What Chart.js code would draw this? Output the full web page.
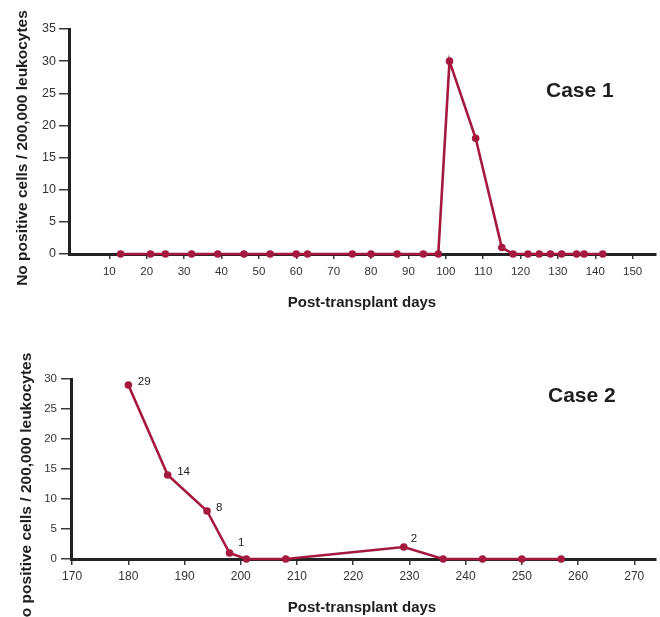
<!DOCTYPE html>
<html><head><meta charset="utf-8">
<script src="https://cdn.jsdelivr.net/npm/chart.js@4.4.1/dist/chart.umd.min.js"></script>
<style>
html,body{margin:0;padding:0;background:#fff;width:660px;height:617px;overflow:hidden;position:relative;}
#c1{position:absolute;left:0;top:0;}
#c2{position:absolute;left:0;top:310px;}
</style></head><body>
<canvas id="c1" width="660" height="330"></canvas>
<canvas id="c2" width="660" height="307"></canvas>
<script>
// ---- data ----
const case1Days   = [13,21,25,32,39,46,53,60,63,75,80,87,94,98,101,108,115,118,122,125,128,131,135,137,142];
const case1Values = [0,0,0,0,0,0,0,0,0,0,0,0,0,0,30,18,1,0,0,0,0,0,0,0,0];
const case1XTicks = [10,20,30,40,50,60,70,80,90,100,110,120,130,140,150];
const case1YTicks = [0,5,10,15,20,25,30,35];

const case2Days   = [180,187,194,198,201,208,229,236,243,250,257];
const case2Values = [29,14,8,1,0,0,2,0,0,0,0];
const case2Labels = ['29','14','8','1','','','2','','','',''];
const case2XTicks = [170,180,190,200,210,220,230,240,250,260,270];
const case2YTicks = [0,5,10,15,20,25,30];

const xTitle = 'Post-transplant days';
const yTitle = 'No positive cells / 200,000 leukocytes';

// ---- styling ----
const RED = '#a5193f';
const FONT = '"Liberation Sans", Arial, Helvetica, sans-serif';

const annotPlugin = {
  id: 'annot',
  afterDatasetsDraw(chart, args, o) {
    const ctx = chart.ctx;
    ctx.save();
    ctx.fillStyle = '#1e1e1e';
    // x title
    ctx.font = 'bold 15px ' + FONT;
    ctx.textAlign = 'center';
    ctx.textBaseline = 'alphabetic';
    ctx.fillText(o.xTitle, o.xTitleX, o.xTitleY);
    // case label
    ctx.font = 'bold 21px ' + FONT;
    ctx.textAlign = 'left';
    ctx.fillText(o.caseText, o.caseX, o.caseY);
    // y title (rotated)
    ctx.save();
    ctx.translate(o.yTitleX, o.yTitleY);
    ctx.rotate(-Math.PI / 2);
    ctx.font = 'bold 15.5px ' + FONT;
    ctx.textAlign = 'center';
    ctx.textBaseline = 'alphabetic';
    ctx.fillText(o.yTitle, 0, 0);
    ctx.restore();
    // point labels
    if (o.pointLabels) {
      const meta = chart.getDatasetMeta(0);
      ctx.font = '11.5px ' + FONT;
      ctx.fillStyle = '#222';
      ctx.textAlign = 'left';
      ctx.textBaseline = 'middle';
      o.pointLabels.forEach((t, i) => {
        if (!t) return;
        const el = meta.data[i];
        const off = o.labelOffsets[i] || [9, -3];
        ctx.fillText(t, el.x + off[0], el.y + off[1]);
      });
    }
    ctx.restore();
  }
};

function makeChart(canvas, cfg) {
  return new Chart(canvas, {
    type: 'line',
    data: {
      datasets: [{
        data: cfg.days.map((d, i) => ({x: d, y: cfg.values[i]})),
        borderColor: RED,
        backgroundColor: RED,
        borderWidth: 2.6,
        pointRadius: 3.8,
        pointHoverRadius: 3.8,
        pointBackgroundColor: RED,
        pointBorderWidth: 0,
        tension: 0,
        clip: false
      }]
    },
    options: {
      responsive: false,
      devicePixelRatio: 1,
      animation: false,
      events: [],
      layout: {padding: {top: cfg.top, left: 0, right: 0, bottom: 0}},
      plugins: {
        legend: {display: false},
        tooltip: {enabled: false},
        annot: cfg.annot
      },
      scales: {
        x: {
          type: 'linear',
          min: cfg.xMin, max: cfg.xMax,
          afterBuildTicks: s => { s.ticks = cfg.xTicks.map(v => ({value: v})); },
          afterFit: s => { s.height = cfg.xHeight; },
          grid: {display: true, drawOnChartArea: false, drawTicks: true, tickLength: cfg.xTickLen, color: '#3a3a3a', lineWidth: 1.5},
          border: {display: true, color: '#222', width: 3},
          ticks: {font: {family: FONT, size: cfg.xFont}, color: '#333', padding: cfg.xPad, maxRotation: 0, autoSkip: false}
        },
        y: {
          type: 'linear',
          min: 0, max: cfg.yMax,
          afterBuildTicks: s => { s.ticks = cfg.yTicks.map(v => ({value: v})); },
          afterFit: s => { s.width = cfg.yWidth; },
          grid: {display: true, drawOnChartArea: false, drawTicks: true, tickLength: 10, color: '#3a3a3a', lineWidth: 1.5},
          border: {display: true, color: '#222', width: 3},
          ticks: {font: {family: FONT, size: cfg.yFont}, color: '#333', padding: cfg.yPad, autoSkip: false}
        }
      }
    },
    plugins: [annotPlugin]
  });
}

makeChart(document.getElementById('c1'), {
  days: case1Days, values: case1Values,
  xTicks: case1XTicks, yTicks: case1YTicks,
  xMin: -0.8, xMax: 156.3, yMax: 35,
  top: 29, xHeight: 330 - 254, yWidth: 69,
  xTickLen: 5, xPad: 6, xFont: 11.5, yFont: 12.5, yPad: 3,
  annot: {
    xTitle: xTitle, xTitleX: 362, xTitleY: 307,
    caseText: 'Case 1', caseX: 546, caseY: 97,
    yTitle: yTitle, yTitleX: 27, yTitleY: 148
  }
});

makeChart(document.getElementById('c2'), {
  days: case2Days, values: case2Values,
  xTicks: case2XTicks, yTicks: case2YTicks,
  xMin: 169.8, xMax: 273.9, yMax: 30,
  top: 69, xHeight: 307 - 249, yWidth: 71,
  xTickLen: 6, xPad: 4, xFont: 12, yFont: 11.5, yPad: 4,
  annot: {
    xTitle: xTitle, xTitleX: 362, xTitleY: 302,
    caseText: 'Case 2', caseX: 548, caseY: 92,
    yTitle: yTitle, yTitleX: 31, yTitleY: 180.5,
    pointLabels: case2Labels,
    labelOffsets: [[9.5,-3],[9.5,-3],[9,-3],[8.5,-10],null,null,[7,-8],null,null,null,null]
  }
});
</script>
</body></html>
